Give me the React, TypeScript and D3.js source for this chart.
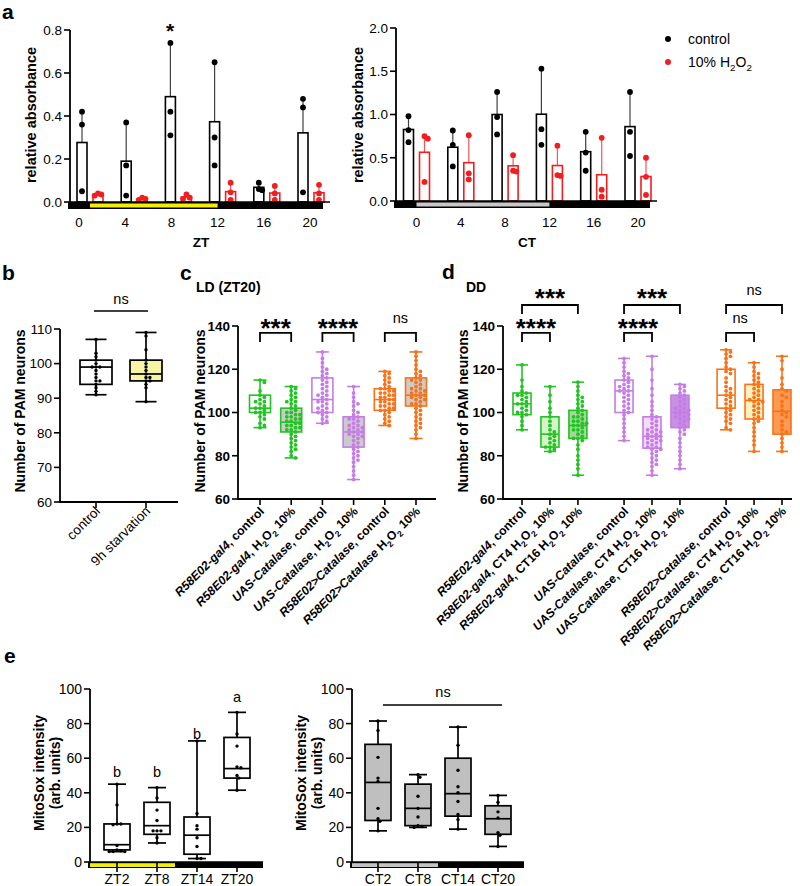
import React from "react";
import { scaleLinear, scalePoint, mean, max } from "d3";

const FONT = "Liberation Sans, Arial, Helvetica, sans-serif";

// ---- panel a : absorbance ----
const aHours = [0, 4, 8, 12, 16, 20];
const aTicksZT = [0, 0.2, 0.4, 0.6, 0.8];
const aTicksCT = [0, 0.5, 1.0, 1.5, 2.0];
const aZtControl = [[0.42, 0.36, 0.05], [0.37, 0.17, 0.03], [0.74, 0.42, 0.31], [0.65, 0.3, 0.17], [0.09, 0.06, 0.055], [0.48, 0.44, 0.045]];
const aZtH2o2 = [[0.04, 0.035, 0.03], [0.02, 0.015, 0.01], [0.035, 0.02, 0.015], [0.09, 0.045, 0.01], [0.075, 0.04, 0.01], [0.08, 0.04, 0.01]];
const aCtControl = [[0.98, 0.82, 0.68], [0.815, 0.65, 0.4], [1.26, 0.97, 0.77], [1.53, 0.83, 0.65], [0.8, 0.56, 0.35], [1.26, 0.8, 0.52]];
const aCtH2o2 = [[0.75, 0.72, 0.22], [0.76, 0.32, 0.25], [0.53, 0.35, 0.34], [0.64, 0.3, 0.29], [0.73, 0.13, 0.05], [0.5, 0.28, 0.07]];

// ---- panel b : starvation ----
const bGroups = ["control", "9h starvation"];
const bTicks = [60, 70, 80, 90, 100, 110];
const bBoxes = [[91, 94, 99, 101, 107], [89, 95, 97, 101, 109]];
const bPoints = [
  [107, 103, 102, 101, 100, 99, 99, 99, 98, 97, 96, 95, 95, 94, 93, 92, 91],
  [109, 108, 104, 101, 100, 99, 98, 97, 96, 96, 95, 95, 94, 93, 89],
];

// ---- panel c : LD (ZT20) ----
const pamTicks = [60, 80, 100, 120, 140];
const cLabels = [
  "*R58E02-gal4*, control",
  "*R58E02-gal4*, H_2O_2 10%",
  "*UAS-Catalase*, control",
  "*UAS-Catalase*, H_2O_2 10%",
  "*R58E02>Catalase*, control",
  "*R58E02>Catalase* H_2O_2 10%",
];
const cBoxes = [[93, 100, 102, 108, 115], [79, 91, 95.5, 102, 112], [95, 100, 106, 116, 128], [69, 84, 91, 98, 112], [94, 101, 106, 111, 119], [88, 103, 108, 116, 128]];
const cPoints = [
  [115, 114, 110, 108, 107, 106, 105, 105, 104, 103, 102, 102, 101, 100, 100, 99, 98, 97, 95, 94, 93],
  [112, 111, 110, 109, 108, 107, 106, 105, 105, 104, 103, 102, 101, 100, 100, 99, 99, 98, 98, 97, 97, 96, 96, 95, 95, 94, 94, 93, 93, 92, 92, 91, 90, 89, 88, 87, 86, 85, 84, 83, 82, 80, 79],
  [128, 125, 123, 121, 120, 119, 118, 117, 116, 115, 114, 113, 112, 111, 110, 109, 108, 108, 107, 106, 105, 105, 104, 103, 102, 102, 101, 100, 100, 99, 98, 97, 96, 95],
  [112, 109, 107, 105, 104, 103, 101, 100, 99, 98, 97, 97, 96, 95, 94, 94, 93, 93, 92, 92, 91, 91, 90, 90, 89, 89, 88, 87, 86, 85, 84, 83, 82, 81, 80, 79, 78, 77, 75, 73, 71, 69],
  [119, 118, 117, 116, 115, 114, 113, 112, 111, 111, 110, 110, 109, 109, 108, 108, 107, 107, 106, 106, 105, 105, 104, 104, 103, 103, 102, 102, 101, 101, 100, 99, 98, 97, 96, 95, 94],
  [128, 126, 124, 122, 120, 119, 118, 117, 116, 115, 115, 114, 113, 112, 111, 111, 110, 110, 109, 109, 108, 108, 107, 107, 106, 106, 105, 104, 104, 103, 102, 101, 100, 99, 98, 97, 96, 95, 94, 93, 92, 90, 88],
];
const cSig = [
  { a: 0, b: 1, label: "***", level: 0 },
  { a: 2, b: 3, label: "****", level: 0 },
  { a: 4, b: 5, label: "ns", level: 0 },
];

// ---- panel d : DD ----
const dLabels = [
  "*R58E02-gal4*, control",
  "*R58E02-gal4*, CT4 H_2O_2 10%",
  "*R58E02-gal4*, CT16 H_2O_2 10%",
  "*UAS-Catalase*, control",
  "*UAS-Catalase*, CT4 H_2O_2 10%",
  "*UAS-Catalase*, CT16 H_2O_2 10%",
  "*R58E02>Catalase*, control",
  "*R58E02>Catalase*, CT4 H_2O_2 10%",
  "*R58E02>Catalase*, CT16 H_2O_2 10%",
];
const dBoxes = [
  [92, 99, 104, 109, 122], [82, 84, 90, 98, 112], [71, 88, 94, 101, 114],
  [87, 100, 110, 115, 125], [71, 83.5, 89, 98, 126], [74, 93, 100, 108, 113],
  [92, 102, 108, 120, 129], [82, 97, 105.5, 113, 123], [82, 90, 100.5, 110.5, 126],
];
const dPoints = [
  [122, 115, 112, 110, 109, 108, 108, 107, 106, 105, 104, 104, 103, 102, 101, 100, 100, 99, 98, 96, 94, 92],
  [112, 108, 105, 102, 100, 98, 96, 94, 92, 91, 90, 89, 88, 87, 86, 85, 84, 84, 83, 82],
  [114, 112, 110, 108, 107, 106, 105, 104, 103, 102, 101, 100, 99, 98, 98, 97, 96, 96, 95, 95, 94, 94, 93, 92, 92, 91, 90, 89, 88, 88, 87, 85, 83, 80, 78, 76, 74, 71],
  [125, 123, 121, 119, 118, 117, 116, 115, 114, 113, 112, 112, 111, 110, 110, 109, 108, 107, 106, 105, 104, 103, 102, 101, 100, 99, 97, 95, 93, 91, 89, 87],
  [126, 120, 115, 111, 108, 105, 103, 101, 99, 98, 97, 96, 95, 94, 93, 92, 92, 91, 91, 90, 90, 89, 89, 88, 88, 87, 87, 86, 86, 85, 84, 84, 83, 83, 82, 81, 80, 79, 78, 77, 76, 75, 73, 71],
  [113, 112, 111, 110, 109, 108, 107, 106, 105, 104, 103, 102, 102, 101, 101, 100, 100, 99, 99, 98, 98, 97, 97, 96, 95, 94, 93, 92, 91, 90, 88, 86, 84, 82, 80, 78, 76, 74],
  [129, 128, 127, 126, 125, 123, 121, 120, 119, 118, 116, 114, 112, 111, 110, 109, 108, 107, 106, 105, 104, 103, 102, 101, 100, 99, 98, 97, 96, 95, 93, 92],
  [123, 121, 119, 118, 117, 116, 115, 114, 113, 112, 111, 110, 109, 108, 107, 106, 106, 105, 105, 104, 103, 102, 101, 100, 99, 98, 97, 96, 95, 93, 91, 89, 87, 85, 82],
  [126, 124, 120, 116, 113, 111, 110, 108, 107, 105, 103, 101, 100, 99, 98, 96, 94, 92, 91, 90, 88, 86, 84, 82],
];
const dSig = [
  { a: 0, b: 1, label: "****", level: 0 },
  { a: 0, b: 2, label: "***", level: 1 },
  { a: 3, b: 4, label: "****", level: 0 },
  { a: 3, b: 5, label: "***", level: 1 },
  { a: 6, b: 7, label: "ns", level: 0 },
  { a: 6, b: 8, label: "ns", level: 1 },
];

// ---- panel e : MitoSox ----
const eTicks = [0, 20, 40, 60, 80, 100];
const eZtLabels = ["ZT2", "ZT8", "ZT14", "ZT20"];
const eZtBoxes = [[6, 7, 10, 22, 45], [11, 16, 21, 34.5, 43], [2, 4.5, 15.5, 26, 70], [41.5, 48.5, 54, 72, 86.5]];
const eZtPoints = [
  [45, 33, 22, 22, 21.5, 9.5, 7, 6.5, 6, 6, 6],
  [43, 37, 30, 24, 18, 18, 18, 14, 11],
  [70, 28, 21, 19, 14, 9, 2, 2],
  [86.5, 74, 67, 55, 54.5, 50, 48.5, 41.5],
];
const eZtLetters = ["b", "b", "b", "a"];
const eZtLetterY = [49, 49, 71, 92.5];
const eCtLabels = ["CT2", "CT8", "CT14", "CT20"];
const eCtBoxes = [[18, 24, 46, 68, 81.5], [20, 21, 31, 45, 50.5], [19, 26.5, 39.5, 60, 78], [9, 16, 25, 32.5, 38.5]];
const eCtPoints = [
  [81.5, 76, 60.5, 48.5, 46.5, 31, 25, 23.5, 18],
  [50.5, 49, 38, 31, 26, 21, 20.5, 20],
  [78, 67.5, 53, 43.5, 40, 35, 27.5, 24.5, 19],
  [38.5, 34.5, 29, 25.5, 17, 15.5, 9],
];

const RED = "#f01e1e";
const GREEN = "#22c322";
const PURPLE = "#c57ce6";
const ORANGE = "#fa7216";
const cColors = [GREEN, GREEN, PURPLE, PURPLE, ORANGE, ORANGE];
const cFills = ["#fff", "#cbcbcb", "#fff", "#cbcbcb", "#fff", "#cbcbcb"];
const dColors = [GREEN, GREEN, GREEN, PURPLE, PURPLE, PURPLE, ORANGE, ORANGE, ORANGE];
const dFills = ["#fff", "#d6f4cc", "#a5d69c", "#fff", "#f2dcf8", "#c592e2", "#fff", "#fdf1c0", "#fb9a52"];

// simple deterministic beeswarm: spread overlapping points sideways
function swarm(vals: number[], y: (v: number) => number, cx: number, r: number, half: number) {
  const placed: { x: number; y: number }[] = [];
  const step = r * 1.15;
  [...vals].sort((a, b) => b - a).forEach((v) => {
    const py = y(v);
    let best = 0;
    let bestD = -1;
    for (let k = 0; k < 30; k++) {
      const off = k === 0 ? 0 : (k % 2 ? 1 : -1) * Math.ceil(k / 2) * step;
      if (Math.abs(off) > half) break;
      const d = placed.length ? Math.min(...placed.map((p) => Math.hypot(p.x - cx - off, p.y - py))) : 99;
      if (d >= 2 * r * 0.95) { best = off; bestD = d; break; }
      if (d > bestD) { bestD = d; best = off; }
    }
    placed.push({ x: cx + best, y: py });
  });
  return placed;
}

// "*italic*" and "_x" subscript markup -> tspans
function rich(s: string, fs: number) {
  const parts: { t: string; it: boolean; sub: boolean }[] = [];
  let it = false;
  let buf = "";
  const flush = () => { if (buf) parts.push({ t: buf, it, sub: false }); buf = ""; };
  for (let i = 0; i < s.length; i++) {
    const ch = s[i];
    if (ch === "*") { flush(); it = !it; continue; }
    if (ch === "_") { flush(); parts.push({ t: s[i + 1], it, sub: true }); i++; continue; }
    buf += ch;
  }
  flush();
  let prevSub = false;
  return parts.map((p, k) => {
    const dy = p.sub && !prevSub ? fs * 0.3 : !p.sub && prevSub ? -fs * 0.3 : 0;
    prevSub = p.sub;
    return (
      <tspan key={k} dy={dy} fontStyle={p.it ? "italic" : "normal"} fontSize={p.sub ? fs * 0.7 : fs}>
        {p.t}
      </tspan>
    );
  });
}

const YAxis = ({ x, scale, ticks, fmt, fs = 13, bold = false }: any) => (
  <g>
    <line x1={x} x2={x} y1={scale(ticks[0]) + 1} y2={scale(ticks[ticks.length - 1])} stroke="#000" strokeWidth={1.8} />
    {ticks.map((t: number) => (
      <g key={t}>
        <line x1={x - 6} x2={x} y1={scale(t)} y2={scale(t)} stroke="#000" strokeWidth={1.6} />
        <text x={x - 8} y={scale(t)} dy="0.36em" textAnchor="end" fontSize={fs} fontWeight={bold ? "bold" : "normal"}>
          {fmt(t)}
        </text>
      </g>
    ))}
  </g>
);

const YLabel = ({ x, y, lines, fs = 14 }: any) => (
  <text transform={`translate(${x},${y}) rotate(-90)`} textAnchor="middle" fontSize={fs} fontWeight="bold">
    {lines.map((l: string, i: number) => (
      <tspan key={i} x={0} dy={i === 0 ? `${0.35 - (lines.length - 1) * 0.6}em` : "1.2em"}>{l}</tspan>
    ))}
  </text>
);

const BoxPlot = ({ cx, w, s, y, stroke, fill, capW, sw = 1.6 }: any) => {
  const [mn, q1, md, q3, mx] = s;
  return (
    <g stroke={stroke} strokeWidth={sw} fill="none">
      <line x1={cx} x2={cx} y1={y(mx)} y2={y(q3)} />
      <line x1={cx} x2={cx} y1={y(q1)} y2={y(mn)} />
      <line x1={cx - capW / 2} x2={cx + capW / 2} y1={y(mx)} y2={y(mx)} />
      <line x1={cx - capW / 2} x2={cx + capW / 2} y1={y(mn)} y2={y(mn)} />
      <rect x={cx - w / 2} y={y(q3)} width={w} height={y(q1) - y(q3)} fill={fill} />
      <line x1={cx - w / 2} x2={cx + w / 2} y1={y(md)} y2={y(md)} />
    </g>
  );
};

const Dots = ({ vals, y, cx, r, half, fill }: any) => (
  <g fill={fill}>
    {swarm(vals, y, cx, r, half).map((p, i) => (
      <circle key={i} cx={p.x} cy={p.y} r={r} />
    ))}
  </g>
);

// a star label is centred at yc; text "ns" sits on baseline yc
const SigText = ({ x, yc, label }: any) =>
  label === "ns" ? (
    <text x={x} y={yc} textAnchor="middle" fontSize={14.5}>ns</text>
  ) : (
    <text x={x} y={yc + 14.5} textAnchor="middle" fontSize={26} fontWeight="bold">{label}</text>
  );

function BarPanel({ y, ticks, fmt, axisX, xGrp, xTick, ctrl, trt, lightStart, lightEnd, lightColor, baseEnd, title, titleX, ylabX, star }: any) {
  const base = y(0);
  const half = 8;
  return (
    <g>
      {[ctrl, trt].map((series: number[][], si: number) => {
        const col = si === 0 ? "#000" : RED;
        return series.map((pts, i) => {
          const cx = xGrp(aHours[i]) + (si === 0 ? -half : half);
          const m = mean(pts) as number;
          const mx = max(pts) as number;
          return (
            <g key={`${si}-${i}`}>
              <line x1={cx} x2={cx} y1={y(m)} y2={y(mx)} stroke={col} strokeOpacity={0.75} strokeWidth={1.2} />
              <rect x={cx - 5} y={y(m)} width={10} height={base - y(m)} fill="#fff" stroke={col} strokeWidth={1.6} />
              <Dots vals={pts} y={y} cx={cx} r={2.9} half={4} fill={col} />
            </g>
          );
        });
      })}
      <line x1={axisX} x2={baseEnd + 7} y1={base} y2={base} stroke="#000" strokeWidth={1.5} />
      <rect x={axisX - 2} y={base} width={baseEnd - axisX + 2} height={7} fill="#000" />
      <rect x={lightStart} y={base + 1.5} width={lightEnd - lightStart} height={4} fill={lightColor} />
      <YAxis x={axisX} scale={y} ticks={ticks} fmt={fmt} fs={13.5} />
      {aHours.map((h) => (
        <text key={h} x={xTick(h)} y={227} textAnchor="middle" fontSize={13.5}>{h}</text>
      ))}
      <text x={titleX} y={247} textAnchor="middle" fontSize={13.5} fontWeight="bold">{title}</text>
      <YLabel x={ylabX} y={115} lines={["relative absorbance"]} fs={14.5} />
      {star}
    </g>
  );
}

function PamPanel({ axisX, axisEnd, xPos, boxes, points, colors, fills, labels, sig, boxW, capW, ylabX }: any) {
  const y = scaleLinear().domain([60, 140]).range([499, 326]);
  const levelTop = [136.8, 149.7];
  const levelText = [141.4, 155.3];
  return (
    <g>
      <YAxis x={axisX} scale={y} ticks={pamTicks} fmt={(d: number) => d} bold fs={13.5} />
      <line x1={axisX} x2={axisEnd} y1={499} y2={499} stroke="#000" strokeWidth={1.8} />
      {boxes.map((s: number[], i: number) => (
        <g key={i}>
          <line x1={xPos(i)} x2={xPos(i)} y1={499} y2={505} stroke="#000" strokeWidth={1.6} />
          <BoxPlot cx={xPos(i)} w={boxW} s={s} y={y} stroke={colors[i]} fill={fills[i]} capW={capW} />
          <Dots vals={points[i]} y={y} cx={xPos(i)} r={1.9} half={boxW / 2} fill={colors[i]} />
          <text transform={`translate(${xPos(i) + 5},${512}) rotate(-45)`} textAnchor="end" fontSize={12.2} fontWeight="bold">
            {rich(labels[i], 12.2)}
          </text>
        </g>
      ))}
      {sig.map((g: any, k: number) => {
        const top = y(levelTop[g.level]);
        const x1 = xPos(g.a);
        const x2 = xPos(g.b);
        return (
          <g key={k}>
            <path d={`M${x1},${top + 9}V${top}H${x2}V${top + 9}`} fill="none" stroke="#000" strokeWidth={1.8} />
            <SigText x={(x1 + x2) / 2} yc={g.label === "ns" ? top - 10 : y(levelText[g.level])} label={g.label} />
          </g>
        );
      })}
      <YLabel x={ylabX} y={411} lines={["Number of PAM neurons"]} />
    </g>
  );
}

function MitoPanel({ axisX, xPos, labels, boxes, points, fill, lightEnd, lightColor, ylabX }: any) {
  const y = scaleLinear().domain([0, 100]).range([862, 689]);
  const n = labels.length;
  const baseEnd = xPos(n - 1) + 26;
  return (
    <g>
      <line x1={axisX} x2={baseEnd} y1={862} y2={862} stroke="#000" strokeWidth={1.5} />
      <rect x={axisX - 2} y={862} width={baseEnd - axisX + 2} height={6} fill="#000" />
      <rect x={axisX} y={863.2} width={lightEnd - axisX} height={3.8} fill={lightColor} />
      <YAxis x={axisX} scale={y} ticks={eTicks} fmt={(d: number) => d} fs={14} />
      {boxes.map((s: number[], i: number) => (
        <g key={i}>
          <line x1={xPos(i)} x2={xPos(i)} y1={862} y2={872} stroke="#000" strokeWidth={1.6} />
          <BoxPlot cx={xPos(i)} w={26} s={s} y={y} stroke="#000" fill={fill} capW={18} sw={1.7} />
          <Dots vals={points[i]} y={y} cx={xPos(i)} r={1.7} half={10} fill="#000" />
          <text x={xPos(i)} y={884} textAnchor="middle" fontSize={14}>{labels[i]}</text>
        </g>
      ))}
      <YLabel x={ylabX} y={773} lines={["MitoSox intensity", "(arb. units)"]} fs={14} />
    </g>
  );
}

export default function App() {
  // panel a scales
  const yA1 = scaleLinear().domain([0, 0.8]).range([202, 30]);
  const xA1tick = scaleLinear().domain([0, 20]).range([79, 310]);
  const xA1grp = scaleLinear().domain([0, 20]).range([90, 311]);
  const yA2 = scaleLinear().domain([0, 2]).range([201, 28]);
  const xA2 = scaleLinear().domain([0, 20]).range([416.5, 638]);

  // panel b
  const yB = scaleLinear().domain([60, 110]).range([502, 329]);
  const xB = scalePoint<string>().domain(bGroups).range([96, 146]);

  // panel c / d x positions
  const xC = scaleLinear().domain([0, cLabels.length - 1]).range([260, 416]);
  const dSlot = (i: number) => i + Math.floor(i / 3) * 0.65;
  const xDs = scaleLinear().domain([0, dSlot(dLabels.length - 1)]).range([522, 782]);
  const xD = (i: number) => xDs(dSlot(i));

  // panel e
  const xE1 = scalePoint<number>().domain(eZtLabels.map((_, i) => i)).range([117, 237]);
  const xE2 = scalePoint<number>().domain(eCtLabels.map((_, i) => i)).range([378, 498]);
  const yE = scaleLinear().domain([0, 100]).range([862, 689]);

  return (
    <svg width={800} height={886} style={{ position: "absolute", left: 0, top: 0, background: "#fff" }} fontFamily={FONT}>
      <rect width={800} height={886} fill="#fff" />
      {/* panel letters */}
      <g fontSize={21} fontWeight="bold">
        <text x={2} y={19}>a</text>
        <text x={2} y={280}>b</text>
        <text x={180} y={280}>c</text>
        <text x={442} y={279}>d</text>
        <text x={4} y={663}>e</text>
      </g>

      {/* a */}
      <BarPanel y={yA1} ticks={aTicksZT} fmt={(d: number) => d.toFixed(1)} axisX={70} xGrp={xA1grp} xTick={xA1tick}
        ctrl={aZtControl} trt={aZtH2o2} lightStart={xA1grp(0)} lightEnd={xA1tick(12)} lightColor="#f4ef00"
        baseEnd={323} title="ZT" titleX={201} ylabX={31}
        star={<text x={170} y={38} textAnchor="middle" fontSize={21} fontWeight="bold">*</text>} />
      <BarPanel y={yA2} ticks={aTicksCT} fmt={(d: number) => d.toFixed(1)} axisX={396} xGrp={xA2} xTick={xA2}
        ctrl={aCtControl} trt={aCtH2o2} lightStart={xA2(0)} lightEnd={xA2(12)} lightColor="#c8c8c8"
        baseEnd={650} title="CT" titleX={527} ylabX={358} star={null} />
      <g fontSize={14}>
        <circle cx={668} cy={39} r={3} fill="#000" />
        <text x={688} y={44}>control</text>
        <circle cx={668} cy={62} r={3} fill={RED} />
        <text x={688} y={67}>{rich("10% H_2O_2", 14)}</text>
      </g>

      {/* b */}
      <g>
        <YAxis x={60} scale={yB} ticks={bTicks} fmt={(d: number) => d} fs={13.5} />
        <line x1={60} x2={178} y1={502} y2={502} stroke="#000" strokeWidth={1.8} />
        {bGroups.map((g, i) => (
          <g key={g}>
            <line x1={xB(g)} x2={xB(g)} y1={502} y2={508} stroke="#000" strokeWidth={1.6} />
            <BoxPlot cx={xB(g)} w={32} s={bBoxes[i]} y={yB} stroke="#000" fill={i === 0 ? "#fff" : "#f8f4a6"} capW={21} sw={1.7} />
            <Dots vals={bPoints[i]} y={yB} cx={xB(g)} r={1.7} half={9} fill="#000" />
            <text transform={`translate(${(xB(g) as number) + 5},${512}) rotate(-45)`} textAnchor="end" fontSize={13.5}>{g}</text>
          </g>
        ))}
        <line x1={xB(bGroups[0])! - 2} x2={xB(bGroups[1])! + 2} y1={yB(115.2)} y2={yB(115.2)} stroke="#000" strokeWidth={1.6} />
        <text x={121} y={yB(117.2)} textAnchor="middle" fontSize={14.5}>ns</text>
        <YLabel x={20} y={411} lines={["Number of PAM neurons"]} />
      </g>

      {/* c */}
      <text x={196} y={292} fontSize={14} fontWeight="bold">LD (ZT20)</text>
      <PamPanel axisX={238} axisEnd={436} xPos={xC} boxes={cBoxes} points={cPoints} colors={cColors} fills={cFills}
        labels={cLabels} sig={cSig} boxW={21} capW={13} ylabX={200} />

      {/* d */}
      <text x={466} y={292} fontSize={14} fontWeight="bold">DD</text>
      <PamPanel axisX={503} axisEnd={792} xPos={xD} boxes={dBoxes} points={dPoints} colors={dColors} fills={dFills}
        labels={dLabels} sig={dSig} boxW={18} capW={12} ylabX={463} />

      {/* e */}
      <MitoPanel axisX={90} xPos={xE1} labels={eZtLabels} boxes={eZtBoxes} points={eZtPoints} fill="#fff"
        lightEnd={((xE1(1) as number) + (xE1(2) as number)) / 2 - 2} lightColor="#f4ef00" ylabX={47} />
      {eZtLetters.map((l, i) => (
        <text key={i} x={xE1(i)} y={yE(eZtLetterY[i])} textAnchor="middle" fontSize={14.5}>{l}</text>
      ))}
      <MitoPanel axisX={352} xPos={xE2} labels={eCtLabels} boxes={eCtBoxes} points={eCtPoints} fill="#bfbfbf"
        lightEnd={((xE2(1) as number) + (xE2(2) as number)) / 2} lightColor="#c4c4c4" ylabX={309} />
      <line x1={383} x2={502} y1={yE(90.75)} y2={yE(90.75)} stroke="#000" strokeWidth={1.6} />
      <text x={443} y={yE(95.4)} textAnchor="middle" fontSize={14.5}>ns</text>
    </svg>
  );
}
